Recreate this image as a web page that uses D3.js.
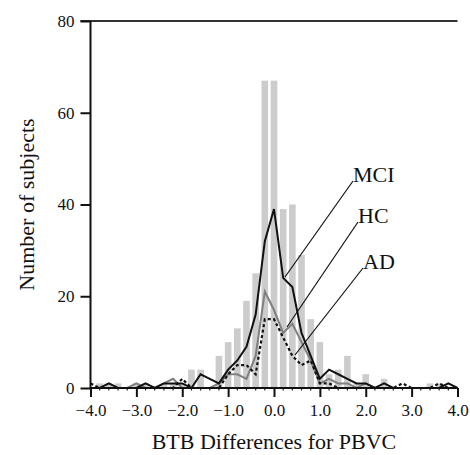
<!DOCTYPE html>
<html>
<head>
<meta charset="utf-8">
<script src="https://cdn.jsdelivr.net/npm/d3@7"></script>
<style>
  body { margin: 0; background: #fff; }
  text { font-family: "Liberation Serif", "Times New Roman", serif; fill: #111; }
</style>
</head>
<body>
<div id="chart"></div>
<script>
// bin centres (BTB differences), step 0.2
var bins = [-4.0,-3.8,-3.6,-3.4,-3.2,-3.0,-2.8,-2.6,-2.4,-2.2,-2.0,-1.8,-1.6,-1.4,-1.2,-1.0,-0.8,-0.6,-0.4,-0.2,
  0.0,0.2,0.4,0.6,0.8,1.0,1.2,1.4,1.6,1.8,2.0,2.2,2.4,2.6,2.8,3.0,3.2,3.4,3.6,3.8,4.0];

// gray histogram (all subjects)
var allSubjects = [0,1,1,1,0,1,1,0,1,1,1,4,4,0,7,10,13,19,25,67,
  67,39,40,29,15,10,3,4,7,1,3,0,2,0,0,0,0,1,1,0,0];

var mci = [0,0,1,0,0,0,1,0,1,1,1,0,3,2,1,4,6,9,16,32,
  39,24,22,12,7,2,4,3,2,1,1,0,1,0,0,0,0,0,0,1,0];
var hc = [0,0,0,0,0,1,0,0,1,2,0,0,0,0,1,3,3,2,7,21,
  17,12,14,10,6,1,2,1,1,0,1,0,0,0,0,0,0,0,0,0,0];
var ad = [1,0,0,0,0,0,0,0,0,0,2,0,0,0,0,3,5,5,3,15,
  15,11,7,5,6,1,1,0,0,0,0,0,0,0,1,0,0,0,1,0,0];

var xTicks = [-4,-3,-2,-1,0,1,2,3,4];
var yTicks = [0,20,40,60,80];

var svgWidth = 470, svgHeight = 455;
var margin = {top: 21, left: 90.5, right: 12.5, bottom: 67};
var width = svgWidth - margin.left - margin.right;
var height = svgHeight - margin.top - margin.bottom;

var svg = d3.select('#chart').append('svg')
  .attr('width', svgWidth)
  .attr('height', svgHeight);

var chart = svg.append('g')
  .attr('transform', `translate(${margin.left},${margin.top})`);

var x = d3.scaleLinear().domain([-4, 4]).range([0, width]);
var y = d3.scaleLinear().domain([0, 80]).range([height, 0]);

var step = x(0.2) - x(0);
var barW = step * 0.72;

// bars
chart.selectAll('rect.bar')
  .data(bins.map((b, i) => ({b: b, v: allSubjects[i]})).filter(d => d.v > 0))
  .enter().append('rect')
  .attr('class', 'bar')
  .attr('x', d => x(d.b) - barW / 2)
  .attr('y', d => y(d.v))
  .attr('width', barW)
  .attr('height', d => height - y(d.v))
  .attr('fill', '#cccccc');

// top line
chart.append('line')
  .attr('x1', -10).attr('x2', width)
  .attr('y1', y(80)).attr('y2', y(80))
  .attr('stroke', '#333').attr('stroke-width', 2);

// lines
var line = d3.line().x(d => x(d[0])).y(d => y(d[1]));
function series(vals) { return bins.map((b, i) => [b, vals[i]]); }

chart.append('path').datum(series(hc))
  .attr('d', line).attr('fill', 'none')
  .attr('stroke', '#808080').attr('stroke-width', 2);
chart.append('path').datum(series(ad))
  .attr('d', line).attr('fill', 'none')
  .attr('stroke', '#111').attr('stroke-width', 2.2)
  .attr('stroke-dasharray', '3,2.5');
chart.append('path').datum(series(mci))
  .attr('d', line).attr('fill', 'none')
  .attr('stroke', '#111').attr('stroke-width', 2);

// axes
var bottomAxis = d3.axisBottom(x).tickValues(xTicks).tickSize(9).tickPadding(7)
  .tickFormat(d3.format('.1f'));
var leftAxis = d3.axisLeft(y).tickValues(yTicks).tickSize(10).tickPadding(6);

// little minor ticks every 0.2
var minor = bins.filter(b => Math.abs(b - Math.round(b)) > 1e-6);
chart.append('g')
  .attr('transform', `translate(0,${height})`)
  .selectAll('line').data(minor).enter().append('line')
  .attr('x1', d => x(d)).attr('x2', d => x(d))
  .attr('y1', 0).attr('y2', 2.5)
  .attr('stroke', '#222').attr('stroke-width', 1.2);

var gx = chart.append('g')
  .attr('transform', `translate(0,${height})`)
  .call(bottomAxis);
var gy = chart.append('g').call(leftAxis);

[gx, gy].forEach(g => {
  g.attr('font-family', null).attr('font-size', null);
  g.select('.domain').attr('stroke', '#111').attr('stroke-width', 2);
  g.selectAll('.tick line').attr('stroke', '#111').attr('stroke-width', 2);
  g.selectAll('.tick text').style('font-size', '17px')
    .style('font-family', '"Liberation Serif", serif').attr('fill', '#111');
});
gx.select('.domain').attr('d', `M0,0H${width}`);
gy.select('.domain').attr('d', `M0,${height}V0`);

// axis titles
chart.append('text')
  .attr('x', x(0)).attr('y', height + 61)
  .attr('text-anchor', 'middle')
  .attr('font-size', '22px')
  .text('BTB Differences for PBVC');

chart.append('text')
  .attr('transform', `translate(${34 - margin.left},${height / 2}) rotate(-90)`)
  .attr('text-anchor', 'middle')
  .attr('font-size', '22px')
  .text('Number of subjects');

// labels with leader lines
var labels = [
  {name: 'MCI', tx: 353, ty: 182, lx: 285, ly: 277},
  {name: 'HC', tx: 358, ty: 223, lx: 287, ly: 327},
  {name: 'AD', tx: 363, ty: 269, lx: 295, ly: 355}
];
labels.forEach(l => {
  svg.append('line')
    .attr('x1', l.tx).attr('y1', l.ty - 1)
    .attr('x2', l.lx).attr('y2', l.ly)
    .attr('stroke', '#111').attr('stroke-width', 1.2);
  svg.append('text')
    .attr('x', l.tx).attr('y', l.ty)
    .attr('font-size', '22px')
    .text(l.name);
});
</script>
</body>
</html>
